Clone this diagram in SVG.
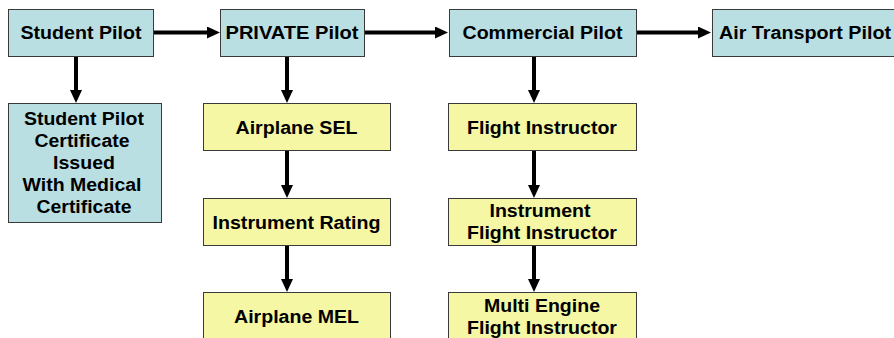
<svg xmlns="http://www.w3.org/2000/svg" width="894" height="338" viewBox="0 0 894 338">
<style>
.b{fill:#BADFE2;stroke:#3a3a3a;stroke-width:1}
.y{fill:#F5F7A4;stroke:#3a3a3a;stroke-width:1}
text{font-family:"Liberation Sans",Arial,sans-serif;font-weight:bold;font-size:18px;fill:#000;text-anchor:middle}
.c line{stroke:#000;stroke-width:4;marker-end:url(#ah)}
</style>
<defs>
<marker id="ah" markerUnits="userSpaceOnUse" markerWidth="13" markerHeight="12" refX="3" refY="6" orient="auto">
<path d="M0,0 L13,6 L0,12 z" fill="#000"/>
</marker>
</defs>
<rect width="894" height="338" fill="#fff"/>
<g class="c" id="connectors">
<line x1="153" y1="32.5" x2="210" y2="32.5"/>
<line x1="364" y1="32.5" x2="438" y2="32.5"/>
<line x1="636" y1="32.5" x2="701" y2="32.5"/>
<line x1="76" y1="56" x2="76" y2="93"/>
<line x1="287" y1="56" x2="287" y2="93"/>
<line x1="287" y1="151" x2="287" y2="188"/>
<line x1="287" y1="245" x2="287" y2="282"/>
<line x1="534" y1="56" x2="534" y2="93"/>
<line x1="534" y1="151" x2="534" y2="188"/>
<line x1="534" y1="245" x2="534" y2="282"/>
</g>
<g id="student-pilot"><rect class="b" x="8.5" y="9.5" width="145" height="47"/><text x="81" y="38.5" textLength="121" lengthAdjust="spacingAndGlyphs">Student Pilot</text></g>
<g id="private-pilot"><rect class="b" x="220.5" y="9.5" width="144" height="47"/><text x="292" y="38.5" textLength="133" lengthAdjust="spacingAndGlyphs">PRIVATE Pilot</text></g>
<g id="commercial-pilot"><rect class="b" x="449.5" y="9.5" width="187" height="47"/><text x="542.5" y="38.5" textLength="160" lengthAdjust="spacingAndGlyphs">Commercial Pilot</text></g>
<g id="air-transport-pilot"><rect class="b" x="712.5" y="9.5" width="200" height="47"/><text x="805" y="38.5" textLength="172" lengthAdjust="spacingAndGlyphs">Air Transport Pilot</text></g>
<g id="student-certificate"><rect class="b" x="8.5" y="103.5" width="153" height="119"/>
<text x="84" y="125" textLength="120" lengthAdjust="spacingAndGlyphs">Student Pilot</text>
<text x="82" y="147" textLength="95" lengthAdjust="spacingAndGlyphs">Certificate</text>
<text x="84" y="169" textLength="62" lengthAdjust="spacingAndGlyphs">Issued</text>
<text x="82" y="191" textLength="119" lengthAdjust="spacingAndGlyphs">With Medical</text>
<text x="84" y="212.5" textLength="95" lengthAdjust="spacingAndGlyphs">Certificate</text>
</g>
<g id="airplane-sel"><rect class="y" x="203.5" y="103.5" width="187" height="47"/><text x="296.5" y="134" textLength="122" lengthAdjust="spacingAndGlyphs">Airplane SEL</text></g>
<g id="instrument-rating"><rect class="y" x="203.5" y="198.5" width="187" height="47"/><text x="296.5" y="228.5" textLength="168" lengthAdjust="spacingAndGlyphs">Instrument Rating</text></g>
<g id="airplane-mel"><rect class="y" x="203.5" y="292.5" width="187" height="60"/><text x="296.5" y="323" textLength="125" lengthAdjust="spacingAndGlyphs">Airplane MEL</text></g>
<g id="flight-instructor"><rect class="y" x="448.5" y="103.5" width="188" height="47"/><text x="542" y="134" textLength="150" lengthAdjust="spacingAndGlyphs">Flight Instructor</text></g>
<g id="instrument-flight-instructor"><rect class="y" x="448.5" y="198.5" width="188" height="47"/>
<text x="540" y="217" textLength="101" lengthAdjust="spacingAndGlyphs">Instrument</text>
<text x="542" y="238.5" textLength="150" lengthAdjust="spacingAndGlyphs">Flight Instructor</text></g>
<g id="multi-engine-flight-instructor"><rect class="y" x="448.5" y="292.5" width="188" height="60"/>
<text x="542" y="312" textLength="116" lengthAdjust="spacingAndGlyphs">Multi Engine</text>
<text x="542" y="333.5" textLength="150" lengthAdjust="spacingAndGlyphs">Flight Instructor</text></g>
</svg>
